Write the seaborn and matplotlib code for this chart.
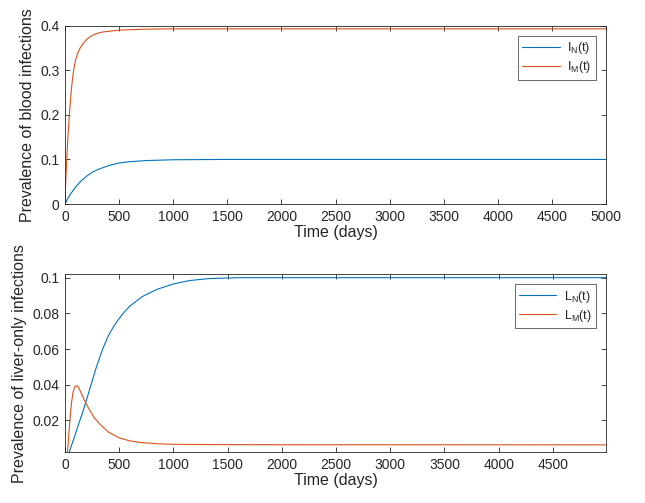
import matplotlib
matplotlib.use("Agg")
import matplotlib.pyplot as plt
import seaborn as sns
from matplotlib.ticker import FuncFormatter, MultipleLocator

# ---- data ----
t_IN = [0, 25, 50, 100, 150, 200, 250, 300, 400, 500, 600, 750, 1000, 1500, 5000]
I_N = [0, 0.012, 0.022, 0.039, 0.052, 0.0625, 0.071, 0.077, 0.086, 0.092, 0.095, 0.0975, 0.0993, 0.1, 0.1]

t_IM = [0, 5, 10, 15, 20, 30, 40, 50, 60, 70, 80, 90, 100, 120, 140, 170, 200, 230, 260, 300,
        350, 420, 500, 700, 1000, 5000]
I_M = [0, 0.04, 0.07, 0.095, 0.12, 0.163, 0.2, 0.232, 0.26, 0.282, 0.3, 0.314, 0.325, 0.34,
       0.35, 0.361, 0.369, 0.375, 0.379, 0.383, 0.386, 0.388, 0.39, 0.392, 0.393, 0.393]

t_LN = [0, 20, 40, 80, 120, 160, 193, 240, 290, 347, 400, 450, 500, 550, 600, 715, 850, 1000,
        1150, 1330, 1600, 4990]
L_N = [0, 0.0005, 0.0025, 0.0095, 0.017, 0.024, 0.0305, 0.040, 0.050, 0.060, 0.0675, 0.0728,
       0.0772, 0.081, 0.0842, 0.0895, 0.0935, 0.0965, 0.0984, 0.0995, 0.1, 0.1]

t_LM = [0, 15, 25, 35, 45, 60, 75, 90, 105, 120, 140, 160, 190, 225, 270, 320, 400, 500,
        600, 700, 850, 1000, 1500, 4990]
L_M = [0, 0.0005, 0.004, 0.012, 0.02, 0.03, 0.036, 0.0388, 0.0395, 0.039, 0.0365, 0.0338,
       0.030, 0.026, 0.0215, 0.018, 0.0135, 0.0102, 0.0085, 0.0076, 0.0069, 0.0066, 0.0064,
       0.0063]

top_labels = [r"I$_{\mathrm{N}}$(t)", r"I$_{\mathrm{M}}$(t)"]
bot_labels = [r"L$_{\mathrm{N}}$(t)", r"L$_{\mathrm{M}}$(t)"]
xlabel = "Time (days)"
ylabel_top = "Prevalence of blood infections"
ylabel_bot = "Prevalence of liver-only infections"

# ---- style ----
sns.set_theme(style="white")
plt.rcParams["font.family"] = ["Liberation Sans", "DejaVu Sans"]
plt.rcParams["mathtext.fontset"] = "custom"
plt.rcParams["mathtext.rm"] = "Liberation Sans"
plt.rcParams["mathtext.it"] = "Liberation Sans:italic"
plt.rcParams["mathtext.bf"] = "Liberation Sans:bold"

BLUE = "#0072BD"
ORANGE = "#D95319"
DARK = "#262626"

fig = plt.figure(figsize=(6.45, 5.03), dpi=100)
ax1 = fig.add_axes([0.1008, 0.5944, 0.8388, 0.3545])
ax2 = fig.add_axes([0.1008, 0.1014, 0.8388, 0.3533])

fmt = FuncFormatter(lambda v, p: "%g" % round(v, 6))


def style(ax):
    for s in ax.spines.values():
        s.set_visible(True)
        s.set_color(DARK)
        s.set_linewidth(0.6)
    ax.tick_params(direction="in", length=3.5, width=0.6, color=DARK,
                   top=True, right=True, bottom=True, left=True,
                   labelsize=10, labelcolor=DARK, pad=4)
    ax.yaxis.set_major_formatter(fmt)
    ax.set_xlabel(xlabel, fontsize=11.5, color=DARK, labelpad=1)


# top subplot
sns.lineplot(x=t_IN, y=I_N, ax=ax1, color=BLUE, linewidth=0.8, label=top_labels[0])
sns.lineplot(x=t_IM, y=I_M, ax=ax1, color=ORANGE, linewidth=0.8, label=top_labels[1])
ax1.set_xlim(0, 5000)
ax1.set_ylim(0, 0.4)
ax1.xaxis.set_major_locator(MultipleLocator(500))
ax1.yaxis.set_major_locator(MultipleLocator(0.1))
style(ax1)
ax1.set_ylabel(ylabel_top, fontsize=11.5, color=DARK, labelpad=4)

# bottom subplot
sns.lineplot(x=t_LN, y=L_N, ax=ax2, color=BLUE, linewidth=0.8, label=bot_labels[0])
sns.lineplot(x=t_LM, y=L_M, ax=ax2, color=ORANGE, linewidth=0.8, label=bot_labels[1])
ax2.set_xlim(0, 4990)
ax2.set_ylim(0.0023, 0.1019)
ax2.xaxis.set_major_locator(MultipleLocator(500))
ax2.set_yticks([0.02, 0.04, 0.06, 0.08, 0.1])
style(ax2)
ax2.set_ylabel(ylabel_bot, fontsize=11.5, color=DARK, labelpad=4)

for ax in (ax1, ax2):
    leg = ax.legend(loc="upper right", fontsize=9, frameon=True, fancybox=False,
                    borderpad=0.35, handlelength=3.0, handletextpad=0.6,
                    labelspacing=0.25, borderaxespad=0.8)
    leg.get_frame().set_edgecolor(DARK)
    leg.get_frame().set_linewidth(0.6)
    for line in leg.get_lines():
        line.set_linewidth(0.8)

fig.savefig("out.png", dpi=100, facecolor="white")
